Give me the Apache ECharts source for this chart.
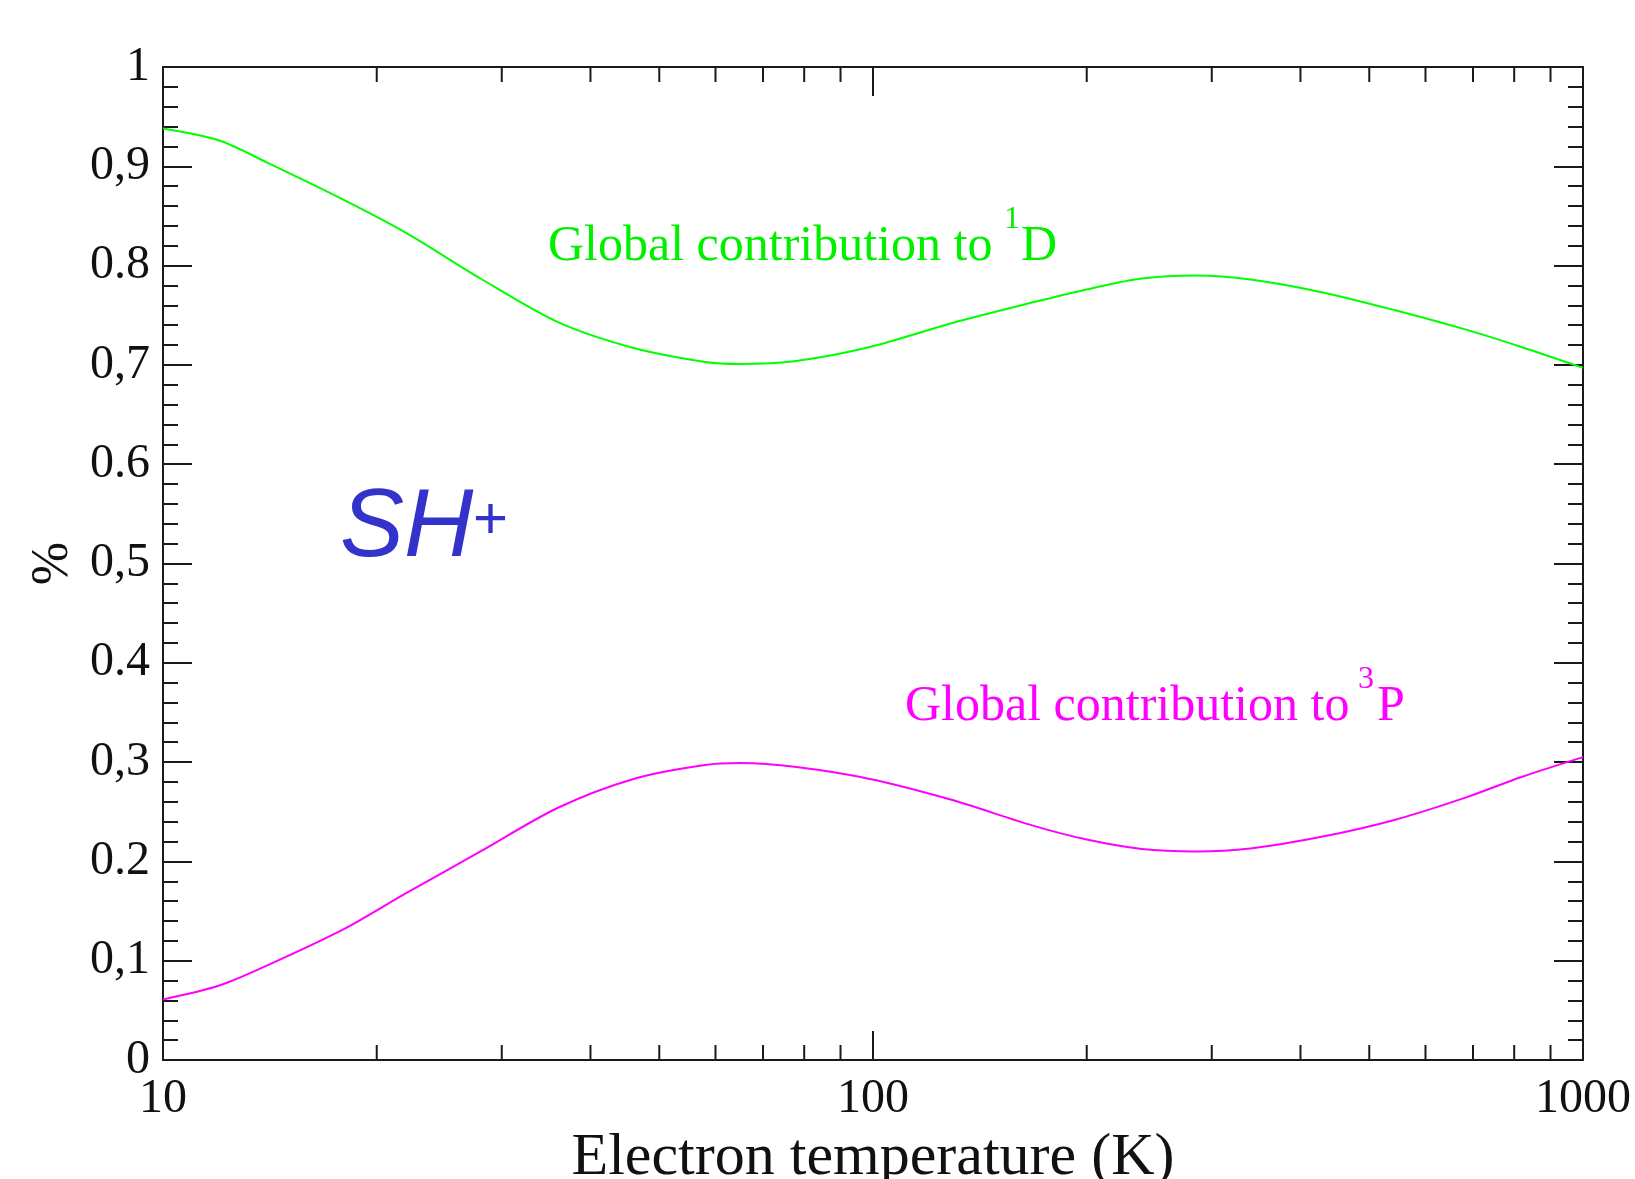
<!DOCTYPE html>
<html>
<head>
<meta charset="utf-8">
<title>SH+ global contributions</title>
<script src="https://cdn.jsdelivr.net/npm/echarts@6/dist/echarts.min.js"></script>
<style>
  html, body { margin: 0; padding: 0; background: #ffffff; }
  #chart { width: 1635px; height: 1179px; }
</style>
</head>
<body>
<div id="chart"></div>
<script>
// Electron temperature grid (K) and the fractional contributions of each state
const temperatureK = [10, 12, 14, 18, 22, 28, 36, 46, 58, 65, 78, 99, 129, 168, 200, 239, 285, 340, 430, 544, 688, 819, 1000];
const fraction1D = [0.938, 0.926, 0.904, 0.866, 0.833, 0.787, 0.743, 0.717, 0.703, 0.701, 0.704, 0.718, 0.742, 0.763, 0.776, 0.787, 0.790, 0.786, 0.773, 0.755, 0.735, 0.718, 0.697];
const fraction3P = [0.061, 0.075, 0.095, 0.132, 0.168, 0.210, 0.254, 0.283, 0.297, 0.299, 0.295, 0.283, 0.262, 0.236, 0.222, 0.2125, 0.210, 0.213, 0.225, 0.242, 0.265, 0.285, 0.305];

// Tick labels of the fraction axis (0 to 1 by 0.1)
const yTickLabels = ['0', '0,1', '0.2', '0,3', '0.4', '0,5', '0.6', '0,7', '0.8', '0,9', '1'];
// Minor decade ticks of the temperature axis
const xMinorTicks = [20, 30, 40, 50, 60, 70, 80, 90, 200, 300, 400, 500, 600, 700, 800, 900];

const SERIF = '"Liberation Serif", "Times New Roman", serif';
const SANS = '"Liberation Sans", Arial, sans-serif';
const AXIS_COLOR = '#1a1a1a';

const chart = echarts.init(document.getElementById('chart'), null, { renderer: 'canvas' });

const frameLine = { show: true, onZero: false, lineStyle: { color: AXIS_COLOR, width: 2 } };
const majorTick = { show: true, inside: true, length: 29, lineStyle: { color: AXIS_COLOR, width: 2 } };
const minorTickStyle = { show: true, splitNumber: 5, length: 15, lineStyle: { color: AXIS_COLOR, width: 2 } };

const option = {
  backgroundColor: '#ffffff',
  animation: false,
  grid: {
    left: 163, right: 52, top: 67, bottom: 119,
    containLabel: false,
    outerBoundsMode: 'none'
  },
  xAxis: [
    {
      type: 'log', logBase: 10, min: 10, max: 1000,
      position: 'bottom',
      axisLine: frameLine,
      axisTick: majorTick,
      minorTick: { show: false },
      splitLine: { show: false },
      axisLabel: {
        margin: 15,
        fontFamily: SERIF, fontSize: 48, color: '#111',
        formatter: v => String(Math.round(v))
      },
      name: 'Electron temperature (K)',
      nameLocation: 'middle',
      nameGap: 57,
      nameTextStyle: { fontFamily: SERIF, fontSize: 60, color: '#111' }
    },
    {
      type: 'log', logBase: 10, min: 10, max: 1000,
      position: 'top',
      axisLine: frameLine,
      axisTick: majorTick,
      splitLine: { show: false },
      axisLabel: { show: false }
    }
  ],
  yAxis: [
    {
      type: 'value', min: 0, max: 1, interval: 0.1,
      position: 'left',
      axisLine: frameLine,
      axisTick: majorTick,
      minorTick: minorTickStyle,
      splitLine: { show: false },
      minorSplitLine: { show: false },
      axisLabel: {
        margin: 13,
        fontFamily: SERIF, fontSize: 48, color: '#111',
        formatter: v => yTickLabels[Math.round(v * 10)]
      },
      name: '%',
      nameLocation: 'middle',
      nameGap: 80,
      nameRotate: 90,
      nameTextStyle: { fontFamily: SERIF, fontSize: 52, color: '#111' }
    },
    {
      type: 'value', min: 0, max: 1, interval: 0.1,
      position: 'right',
      axisLine: frameLine,
      axisTick: majorTick,
      minorTick: minorTickStyle,
      splitLine: { show: false },
      minorSplitLine: { show: false },
      axisLabel: { show: false }
    }
  ],
  series: [
    {
      name: '1D',
      type: 'line',
      data: temperatureK.map((t, i) => [t, fraction1D[i]]),
      smooth: 0.3,
      showSymbol: false,
      lineStyle: { color: '#00ff00', width: 2 },
      itemStyle: { color: '#00ff00' },
      z: 3
    },
    {
      name: '3P',
      type: 'line',
      data: temperatureK.map((t, i) => [t, fraction3P[i]]),
      smooth: 0.3,
      showSymbol: false,
      lineStyle: { color: '#ff00ff', width: 2 },
      itemStyle: { color: '#ff00ff' },
      z: 3
    },
    {
      // minor ticks between decades on the bottom and top frame
      name: 'minorTicks',
      type: 'custom',
      silent: true,
      clip: false,
      data: xMinorTicks.map(v => [v, 0]),
      encode: { x: 0, y: 1 },
      renderItem: (params, api) => {
        const bottom = api.coord([api.value(0), 0]);
        const top = api.coord([api.value(0), 1]);
        const style = { stroke: AXIS_COLOR, lineWidth: 2 };
        return {
          type: 'group',
          children: [
            { type: 'line', shape: { x1: bottom[0], y1: bottom[1], x2: bottom[0], y2: bottom[1] - 15 }, style },
            { type: 'line', shape: { x1: top[0], y1: top[1], x2: top[0], y2: top[1] + 15 }, style }
          ]
        };
      },
      z: 5
    }
  ],
  graphic: [
    // annotation of the 1D curve
    { type: 'text', left: 548, top: 222, style: { text: 'Global contribution to', font: '50px ' + SERIF, fill: '#00f000' } },
    { type: 'text', left: 1004, top: 204, style: { text: '1', font: '32px ' + SERIF, fill: '#00f000' } },
    { type: 'text', left: 1021, top: 222, style: { text: 'D', font: '50px ' + SERIF, fill: '#00f000' } },
    // annotation of the 3P curve
    { type: 'text', left: 905, top: 682, style: { text: 'Global contribution to', font: '50px ' + SERIF, fill: '#ff00ff' } },
    { type: 'text', left: 1358, top: 664, style: { text: '3', font: '32px ' + SERIF, fill: '#ff00ff' } },
    { type: 'text', left: 1377, top: 682, style: { text: 'P', font: '50px ' + SERIF, fill: '#ff00ff' } },
    // molecule label
    { type: 'text', left: 340, top: 481, style: { text: 'SH', font: 'italic 96px ' + SANS, fill: '#3333cc' } },
    { type: 'text', left: 473, top: 491, style: { text: '+', font: '60px ' + SANS, fill: '#3333cc' } }
  ]
};

chart.setOption(option);
</script>
</body>
</html>
